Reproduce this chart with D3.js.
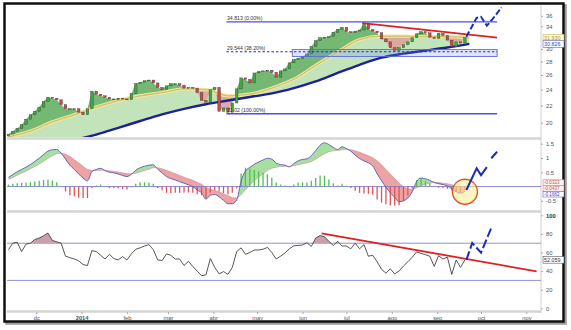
<!DOCTYPE html>
<html>
<head>
<meta charset="utf-8">
<script src="https://cdn.jsdelivr.net/npm/d3@7"></script>
<style>
  body { margin: 0; background: #fff; }
  svg { display: block; }
  text { font-family: "Liberation Sans", Arial, sans-serif; }
</style>
</head>
<body>
<div id="chart"></div>
<script>
// daily-ish series sampled every 3 days from the first date
const seriesStart = '2013-11-12';
const seriesStep = 3;

const closes = [
  18.8, 19.1, 19.4, 19.8, 20.4, 20.9, 21.3, 21.8, 22.5, 23.0,
  22.9, 22.7, 22.1, 21.6, 21.6, 21.6, 21.2, 20.9, 21.6, 23.8,
  23.4, 23.2, 23.0, 22.8, 22.7, 22.9, 22.8, 22.7, 23.5, 24.8,
  25.0, 25.2, 25.3, 24.9, 24.3, 24.0, 24.5, 24.8, 24.8, 24.6,
  24.2, 24.3, 24.2, 23.6, 22.6, 22.4, 24.0, 24.3, 21.3, 21.7,
  21.2, 22.3, 24.1, 25.6, 25.4, 24.9, 26.3, 26.5, 26.6, 26.7,
  26.4, 25.7, 26.6, 26.9, 27.8, 28.3, 28.5, 28.8, 29.2, 30.4,
  31.4, 31.9, 32.0, 32.1, 32.9, 33.4, 33.8, 33.0, 32.8, 33.1,
  33.3, 34.6, 33.4, 33.1, 32.8, 31.7, 31.2, 30.2, 29.7, 30.2,
  30.7, 31.2, 31.9, 32.6, 33.0, 32.8, 32.0, 31.8, 32.7, 32.3,
  31.5, 30.4, 31.2, 31.0, 31.93
];

const macd = [
  0.32, 0.42, 0.52, 0.60, 0.68, 0.77, 0.88, 0.99, 1.12, 1.24,
  1.29, 1.30, 1.17, 0.96, 0.75, 0.60, 0.44, 0.30, 0.20, 0.52,
  0.60, 0.64, 0.56, 0.50, 0.48, 0.44, 0.39, 0.35, 0.43, 0.57,
  0.66, 0.71, 0.75, 0.76, 0.61, 0.48, 0.35, 0.28, 0.23, 0.17,
  0.12, 0.06, 0.00, -0.12, -0.22, -0.44, -0.30, -0.28, -0.36, -0.48,
  -0.60, -0.60, -0.47, 0.18, 0.55, 0.67, 0.78, 0.86, 0.93, 0.99,
  0.96, 0.82, 0.77, 0.75, 0.69, 0.80, 0.90, 0.95, 0.97, 1.08,
  1.26, 1.45, 1.53, 1.47, 1.37, 1.30, 1.39, 1.33, 1.24, 1.10,
  0.98, 0.90, 0.83, 0.72, 0.45, 0.20, -0.02, -0.22, -0.38, -0.53,
  -0.50, -0.40, -0.18, 0.18, 0.30, 0.27, 0.22, 0.14, 0.10, 0.07,
  0.02, -0.08, -0.18, -0.23, -0.166
];

const signal = [
  0.25, 0.32, 0.40, 0.47, 0.54, 0.62, 0.70, 0.79, 0.89, 0.99,
  1.08, 1.15, 1.17, 1.13, 1.05, 0.94, 0.83, 0.71, 0.60, 0.57,
  0.56, 0.57, 0.57, 0.55, 0.53, 0.51, 0.48, 0.45, 0.45, 0.47,
  0.51, 0.56, 0.61, 0.66, 0.66, 0.62, 0.57, 0.51, 0.45, 0.39,
  0.33, 0.27, 0.22, 0.15, 0.08, -0.03, -0.09, -0.14, -0.19, -0.25,
  -0.32, -0.38, -0.40, -0.28, -0.11, 0.05, 0.20, 0.33, 0.45, 0.56,
  0.64, 0.68, 0.70, 0.71, 0.71, 0.73, 0.76, 0.80, 0.83, 0.88,
  0.96, 1.06, 1.15, 1.22, 1.25, 1.26, 1.29, 1.30, 1.29, 1.25,
  1.20, 1.14, 1.08, 1.01, 0.90, 0.76, 0.60, 0.44, 0.28, 0.12,
  0.00, -0.08, -0.10, -0.04, 0.03, 0.08, 0.11, 0.15, 0.14, 0.12,
  0.10, 0.06, 0.01, -0.03, -0.044
];

const rsi = [
  63, 70, 71, 61, 69, 70, 74, 75.5, 78, 81,
  73, 71.5, 70, 56, 54.5, 53, 51, 47, 46, 62,
  61, 57, 53, 58, 53.5, 52, 55.5, 52, 58.5, 63.5,
  65, 67, 68.5, 63, 52, 51.3, 58.5, 57, 53, 53,
  46, 50.5, 45, 40, 35, 36, 53.5, 44, 37, 39.5,
  36.5, 44, 61, 65, 58, 60, 62.7, 62.7, 63.5, 65.5,
  60, 53, 56, 59.5, 64, 67.2, 67.6, 68.1, 70.5, 66.5,
  75.5, 78.2, 77, 72, 67.5, 72, 67, 67, 64, 70,
  64, 68.5, 56, 57, 50, 42, 37.8, 42.5, 37, 40,
  45.5, 50, 55, 60.7, 59.1, 57.6, 56, 45, 56.5, 53,
  55, 36.5, 51.9, 44, 52.06
];

// moving averages, sampled every 15 days
const maStart = '2013-11-12';
const maStep = 15;
const maFast = [
  18.5, 19.1, 20.1, 20.9, 21.8, 22.6, 23.2, 23.6, 24.1, 24.0, 23.2,
  23.4, 24.2, 25.4, 27.4, 29.5, 31.6, 32.2, 32.2, 32.1, 32.1, 31.9
];
const maSlow = [
  16.5, 17.1, 17.7, 18.2, 18.75, 19.45, 20.2, 20.95, 21.6, 22.15, 22.6,
  23.05, 23.5, 24.2, 25.1, 26.3, 27.5, 28.6, 29.25, 29.75, 30.25, 30.85
];

const monthDates = ['2013-12-01', '2014-01-01', '2014-02-01', '2014-03-01', '2014-04-01', '2014-05-01',
  '2014-06-01', '2014-07-01', '2014-08-01', '2014-09-01', '2014-10-01', '2014-11-01'];
const monthLabels = ['dc', '2014', 'feb', 'mar', 'abr', 'may', 'jun', 'jul', 'ago', 'sep', 'oct', 'nov'];

const priceTicks = [20, 22, 24, 26, 28, 30, 34, 36];
const macdTicks = [1.5, 1, 0.5, -0.5];
const rsiTicks = [100, 80, 60, 40, 20, 0];

const fibValues = [34.813, 29.544, 21.02];
const fibLabels = ['34.813 (0.00%)', '29.544 (38.20%)', '21.02 (100.00%)'];
const fibFrom = '2014-04-10';
const fibTo = '2014-10-12';
const fibBox = { from: '2014-05-25', to: '2014-10-12', hi: 29.9, lo: 28.8 };

const priceTrend = [['2014-07-12', 34.6], ['2014-10-12', 31.95]];
const rsiTrend = [['2014-06-14', 80.6], ['2014-11-08', 39.7]];

const priceForecast = [['2014-09-21', 32.1], ['2014-09-28', 35.6], ['2014-10-01', 35.8],
  ['2014-10-05', 34.1], ['2014-10-09', 35.4], ['2014-10-15', 37.7]];
const macdForecast = [['2014-09-21', -0.12], ['2014-09-28', 0.64], ['2014-10-01', 0.40],
  ['2014-10-05', 0.68]];
const macdForecast2 = [['2014-10-08', 0.99], ['2014-10-12', 1.22]];
const rsiForecast = [['2014-09-21', 52], ['2014-09-25', 70.2], ['2014-10-01', 59.8], ['2014-10-08', 86.3]];

const lastLabelsPrice = [['31.930', 31.93, 'yellow'], ['30.826', 30.826, 'blue']];
const lastLabelsMacd = [['-0.0323', 182.6, 'red'], ['-0.0437', 188.4, 'red'], ['-0.1662', 194.2, 'blue']];
const rsiLast = '52.059';

// ---------------------------------------------------------------
const width = 571, height = 330;
const left = 7, right = 541;
const pTop = 5, pBot = 137;
const mTop = 140, mBot = 210;
const rTop = 213, rBot = 310;

const parse = d3.timeParse('%Y-%m-%d');
const s0 = parse(seriesStart);
const days = closes.map((_, i) => d3.timeDay.offset(s0, i * seriesStep));
const m0 = parse(maStart);
const maDays = maFast.map((_, i) => d3.timeDay.offset(m0, i * maStep));

const x = d3.scaleTime()
  .domain([parse('2013-11-11'), parse('2014-11-11')])
  .range([left, right]);
const yP = d3.scaleLog().domain([18.5, 38.2]).range([pBot, pTop]);
const yM = d3.scaleLinear().domain([-0.82, 1.63]).range([mBot, mTop]);
const yR = d3.scaleLinear().domain([0, 100]).range([308.3, 215.3]);

const svg = d3.select('#chart').append('svg')
  .attr('width', width).attr('height', height);
const defs = svg.append('defs');

// frame + shadow
svg.append('rect').attr('x', 6.5).attr('y', 5.5).attr('width', 559).attr('height', 318)
  .attr('fill', 'none').attr('stroke', '#9a9a9a').attr('stroke-width', 2.5);
svg.append('rect').attr('x', 4.5).attr('y', 3.5).attr('width', 559).attr('height', 318)
  .attr('fill', '#fff').attr('stroke', '#111').attr('stroke-width', 2.5);

function clipRect(id, y0, y1) {
  defs.append('clipPath').attr('id', id).append('rect')
    .attr('x', left).attr('y', y0).attr('width', right - left).attr('height', y1 - y0);
}
clipRect('clipP', pTop, pBot);
clipRect('clipM', mTop, mBot);
clipRect('clipR', rTop, rBot);

// panel separators
[pBot + 1.5, mBot + 1.5, rBot + 1.5].forEach(yy => {
  svg.append('line').attr('x1', left).attr('x2', right).attr('y1', yy).attr('y2', yy)
    .attr('stroke', '#d4d4d4').attr('stroke-width', 2.5);
});
svg.append('line').attr('x1', right).attr('x2', right).attr('y1', pTop).attr('y2', rBot + 3)
  .attr('stroke', '#c4c4c4').attr('stroke-width', 0.8);

// ---------------- price panel ----------------
const priceData = closes.map((c, i) => ({ date: days[i], close: c, open: i ? closes[i - 1] : 18.6 }));
const fastData = maFast.map((v, i) => ({ date: maDays[i], v }));
const slowData = maSlow.map((v, i) => ({ date: maDays[i], v }));

const gP = svg.append('g').attr('clip-path', 'url(#clipP)');

const areaTo = (yfn, edge, curve) => d3.area().curve(curve || d3.curveLinear)
  .x(d => x(d.date)).y0(edge).y1(yfn);

defs.append('clipPath').attr('id', 'fastTop').append('path')
  .attr('d', areaTo(d => yP(d.v), pTop - 5, d3.curveMonotoneX)(fastData));
defs.append('clipPath').attr('id', 'fastBot').append('path')
  .attr('d', areaTo(d => yP(d.v), pBot + 5, d3.curveMonotoneX)(fastData));
defs.append('clipPath').attr('id', 'slowTop').append('path')
  .attr('d', areaTo(d => yP(d.v), pTop - 5, d3.curveMonotoneX)(slowData));

// gradient for the area above the fast average
const grad = defs.append('linearGradient').attr('id', 'upGrad')
  .attr('x1', 0).attr('y1', 0).attr('x2', 0).attr('y2', 1);
grad.append('stop').attr('offset', '0%').attr('stop-color', '#3f9a3f');
grad.append('stop').attr('offset', '100%').attr('stop-color', '#8fcf8a');

// light green between the two averages
gP.append('g').attr('clip-path', 'url(#slowTop)')
  .append('path')
  .attr('d', areaTo(d => yP(d.v), pBot + 5, d3.curveMonotoneX)(fastData))
  .attr('fill', '#c3e3bb');

// price above fast average
gP.append('g').attr('clip-path', 'url(#fastTop)')
  .append('path')
  .attr('d', areaTo(d => yP(d.close), pBot + 5)(priceData))
  .attr('fill', '#5cab5c').attr('opacity', 0.85);

// price below fast average
gP.append('g').attr('clip-path', 'url(#fastBot)')
  .append('path')
  .attr('d', areaTo(d => yP(d.close), pTop - 5)(priceData))
  .attr('fill', '#dba39b').attr('opacity', 0.9);

// averages
const maLine = d3.line().curve(d3.curveMonotoneX).x(d => x(d.date)).y(d => yP(d.v));
gP.append('path').attr('d', maLine(fastData)).attr('fill', 'none')
  .attr('stroke', '#efe6a8').attr('stroke-width', 3.4);
gP.append('path').attr('d', maLine(fastData)).attr('fill', 'none')
  .attr('stroke', '#d2c260').attr('stroke-width', 1.3);
gP.append('path').attr('d', maLine(slowData)).attr('fill', 'none')
  .attr('stroke', '#1c2296').attr('stroke-width', 2.4);

// candles
gP.append('g').selectAll('rect').data(priceData).join('rect')
  .attr('x', d => x(d.date) - 1.3)
  .attr('width', 2.6)
  .attr('y', d => yP(Math.max(d.open, d.close)))
  .attr('height', d => Math.max(0.9, Math.abs(yP(d.open) - yP(d.close))))
  .attr('fill', d => d.close >= d.open ? '#3da83d' : '#c94848')
  .attr('stroke', '#333').attr('stroke-width', 0.35);

// fibonacci
gP.append('rect')
  .attr('x', x(parse(fibBox.from))).attr('width', x(parse(fibBox.to)) - x(parse(fibBox.from)))
  .attr('y', yP(fibBox.hi)).attr('height', yP(fibBox.lo) - yP(fibBox.hi))
  .attr('fill', 'rgba(120,140,255,0.22)').attr('stroke', '#5a68e0').attr('stroke-width', 0.9);
fibValues.forEach((v, i) => {
  const dashed = i === 1;
  gP.append('line')
    .attr('x1', x(parse(fibFrom))).attr('x2', x(parse(fibTo)))
    .attr('y1', yP(v)).attr('y2', yP(v))
    .attr('stroke', dashed ? '#2430a8' : '#4a50dc')
    .attr('stroke-width', dashed ? 1 : 1.3)
    .attr('stroke-dasharray', dashed ? '2.5,2' : null);
  gP.append('text')
    .attr('x', x(parse(fibFrom)) + 0.5).attr('y', yP(v) - 1.5)
    .attr('font-size', 5.2).attr('fill', '#333')
    .text(fibLabels[i]);
});

// trend line + forecast
const ptLine = d3.line().x(d => x(parse(d[0])));
gP.append('path').attr('d', ptLine.y(d => yP(d[1]))(priceTrend))
  .attr('stroke', '#dd2020').attr('stroke-width', 1.8).attr('fill', 'none');
gP.append('path').attr('d', ptLine.y(d => yP(d[1]))(priceForecast))
  .attr('stroke', '#1c2cb4').attr('stroke-width', 2).attr('fill', 'none')
  .attr('stroke-dasharray', '6,2.5');

// ---------------- MACD panel ----------------
const macdData = macd.map((v, i) => ({ date: days[i], v, s: signal[i] }));
const gM = svg.append('g').attr('clip-path', 'url(#clipM)');

defs.append('clipPath').attr('id', 'sigTop').append('path')
  .attr('d', areaTo(d => yM(d.s), mTop - 5, d3.curveMonotoneX)(macdData));
defs.append('clipPath').attr('id', 'sigBot').append('path')
  .attr('d', areaTo(d => yM(d.s), mBot + 5, d3.curveMonotoneX)(macdData));

gM.append('g').attr('clip-path', 'url(#sigTop)').append('path')
  .attr('d', areaTo(d => yM(d.v), mBot + 5, d3.curveMonotoneX)(macdData))
  .attr('fill', '#a6e0a0');
gM.append('g').attr('clip-path', 'url(#sigBot)').append('path')
  .attr('d', areaTo(d => yM(d.v), mTop - 5, d3.curveMonotoneX)(macdData))
  .attr('fill', '#eda3a3');

gM.append('line').attr('x1', left).attr('x2', right).attr('y1', yM(0)).attr('y2', yM(0))
  .attr('stroke', '#7b7bd6').attr('stroke-width', 0.9);

gM.append('g').selectAll('line').data(macdData).join('line')
  .attr('x1', d => x(d.date)).attr('x2', d => x(d.date))
  .attr('y1', yM(0)).attr('y2', d => yM(d.v - d.s))
  .attr('stroke', d => d.v >= d.s ? '#4fbf4f' : '#e05353').attr('stroke-width', 1.3);

gM.append('path')
  .attr('d', d3.line().curve(d3.curveMonotoneX).x(d => x(d.date)).y(d => yM(d.s))(macdData))
  .attr('fill', 'none').attr('stroke', '#c98a9a').attr('stroke-width', 0.6);
gM.append('path')
  .attr('d', d3.line().curve(d3.curveMonotoneX).x(d => x(d.date)).y(d => yM(d.v))(macdData))
  .attr('fill', 'none').attr('stroke', '#5757b5').attr('stroke-width', 0.9);

const circleAt = ['2014-09-20', -0.18];
gM.append('circle')
  .attr('cx', x(parse(circleAt[0]))).attr('cy', yM(circleAt[1])).attr('r', 12.5)
  .attr('fill', 'rgba(255,236,140,0.55)').attr('stroke', '#e0562a').attr('stroke-width', 1.4);

gM.append('path').attr('d', ptLine.y(d => yM(d[1]))(macdForecast))
  .attr('stroke', '#1c2cb4').attr('stroke-width', 2).attr('fill', 'none');
gM.append('path').attr('d', ptLine.y(d => yM(d[1]))(macdForecast2))
  .attr('stroke', '#1c2cb4').attr('stroke-width', 2).attr('fill', 'none');

// ---------------- RSI panel ----------------
const rsiData = rsi.map((v, i) => ({ date: days[i], v }));
const gR = svg.append('g').attr('clip-path', 'url(#clipR)');

[70, 30].forEach(v => {
  gR.append('line').attr('x1', left).attr('x2', right).attr('y1', yR(v)).attr('y2', yR(v))
    .attr('stroke', '#8585d4').attr('stroke-width', 0.9);
});

defs.append('clipPath').attr('id', 'above70').append('rect')
  .attr('x', left).attr('y', rTop).attr('width', right - left).attr('height', yR(70) - rTop);
gR.append('g').attr('clip-path', 'url(#above70)').append('path')
  .attr('d', d3.area().x(d => x(d.date)).y0(yR(70)).y1(d => yR(d.v))(rsiData))
  .attr('fill', '#caa0ac');

gR.append('path')
  .attr('d', d3.line().x(d => x(d.date)).y(d => yR(d.v))(rsiData))
  .attr('fill', 'none').attr('stroke', '#444').attr('stroke-width', 0.9);

gR.append('path').attr('d', ptLine.y(d => yR(d[1]))(rsiTrend))
  .attr('stroke', '#dd2020').attr('stroke-width', 1.8).attr('fill', 'none');
gR.append('path').attr('d', ptLine.y(d => yR(d[1]))(rsiForecast))
  .attr('stroke', '#1c2cb4').attr('stroke-width', 2).attr('fill', 'none')
  .attr('stroke-dasharray', '9,3');

// ---------------- axes ----------------
function rightAxis(scale, ticks, fmt) {
  const g = svg.append('g').attr('transform', `translate(${right},0)`)
    .call(d3.axisRight(scale).tickValues(ticks).tickSize(2).tickPadding(3).tickFormat(fmt));
  g.select('.domain').remove();
  g.selectAll('line').attr('stroke', '#aaa');
  g.selectAll('text').attr('font-size', 5.8).attr('fill', '#555').attr('font-family', 'Liberation Sans, Arial');
  return g;
}
rightAxis(yP, priceTicks, d3.format('d'));
rightAxis(yM, macdTicks, d => String(d));
const rAx = rightAxis(yR, rsiTicks, d3.format('d'));
rAx.selectAll('text').filter(d => d === 100).attr('font-weight', 'bold').attr('fill', '#333');

function valueBox(label, yy, kind, h) {
  h = h || 6.6;
  const col = { yellow: ['#fffbd0', '#cbbb55', '#a89a38'], blue: ['#fff', '#5d63d4', '#3c44c4'],
    red: ['#fff4f0', '#d98080', '#c05050'], black: ['#fff', '#555', '#333'] }[kind];
  svg.append('rect').attr('x', right + 2).attr('y', yy - h / 2).attr('width', 21).attr('height', h)
    .attr('fill', col[0]).attr('stroke', col[1]).attr('stroke-width', 0.6);
  svg.append('text').attr('x', right + 3).attr('y', yy + h * 0.3)
    .attr('font-size', h * 0.82).attr('fill', col[2]).text(label);
}
lastLabelsPrice.forEach(([t, v, k]) => valueBox(t, yP(v), k));
lastLabelsMacd.forEach(([t, yy, k]) => valueBox(t, yy, k, 5.6));
valueBox(rsiLast, yR(52.06), 'black');

const months = monthDates.map(parse);
const bx = svg.append('g').attr('transform', `translate(0,${rBot + 2})`)
  .call(d3.axisBottom(x).tickValues(months).tickSize(2).tickPadding(1.5)
    .tickFormat((d, i) => monthLabels[i]));
bx.select('.domain').remove();
bx.selectAll('line').attr('stroke', '#aaa');
bx.selectAll('text').attr('font-size', 5.8).attr('fill', '#555').attr('font-family', 'Liberation Sans, Arial')
  .attr('font-weight', (d, i) => monthLabels[i] === '2014' ? 'bold' : null);
</script>
</body>
</html>
